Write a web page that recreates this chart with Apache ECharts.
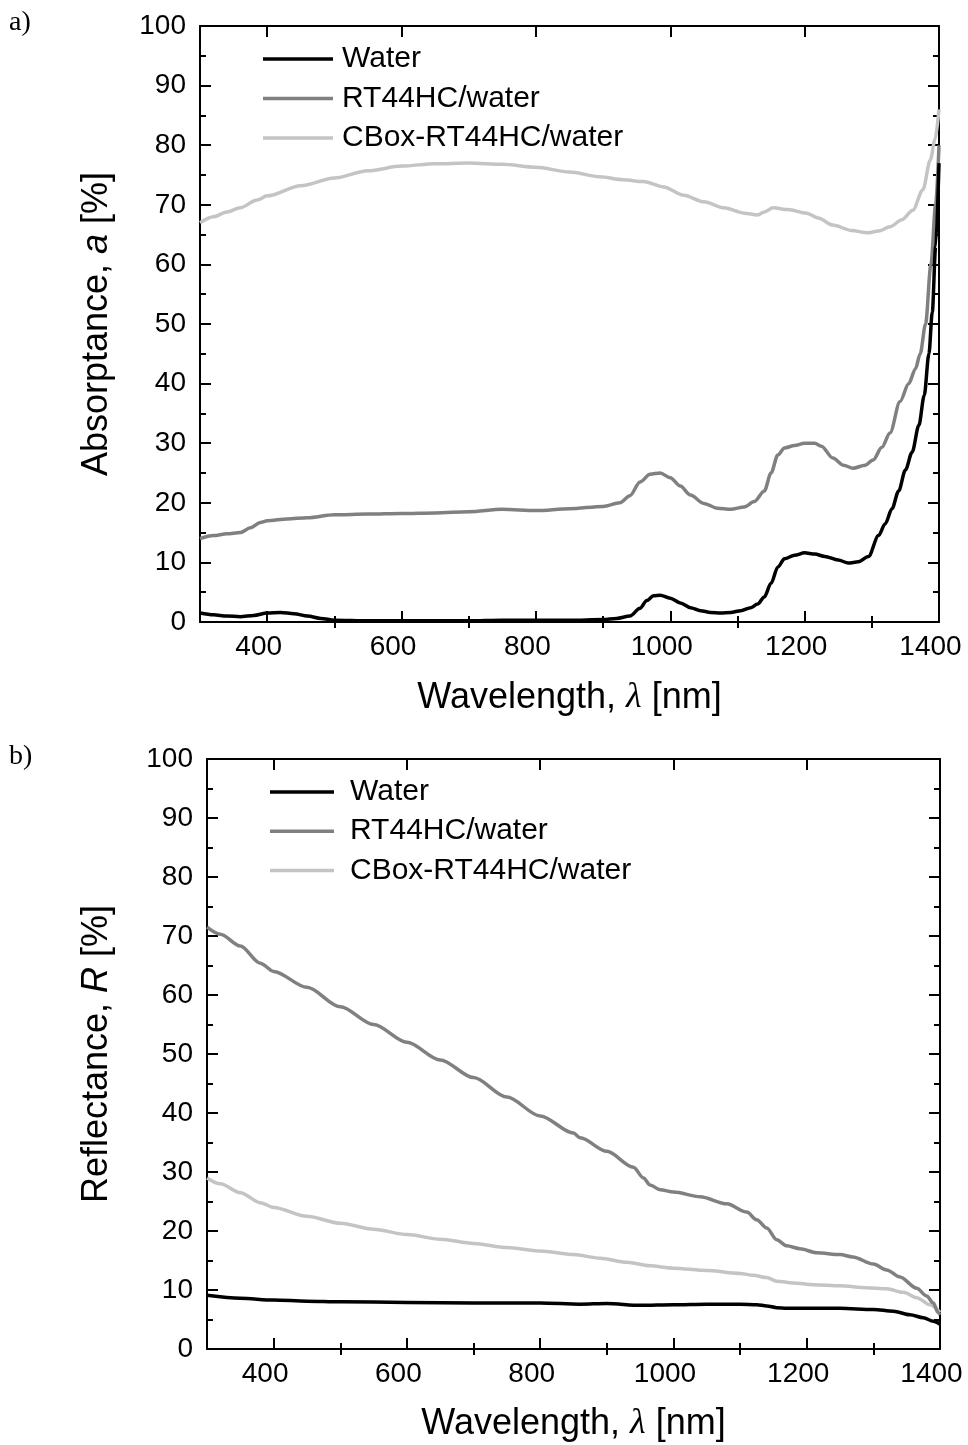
<!DOCTYPE html>
<html>
<head>
<meta charset="utf-8">
<script src="https://cdn.jsdelivr.net/npm/echarts@6/dist/echarts.min.js"></script>
<style>
html,body{margin:0;padding:0;background:#fff;}
#c{width:968px;height:1445px;}
</style>
</head>
<body>
<div id="c"></div>
<script>
// ---------- Data ----------
const seriesNames = ['Water', 'RT44HC/water', 'CBox-RT44HC/water'];
const xMajorTicks = [400, 600, 800, 1000, 1200, 1400];
const xMinorTicks = [500, 700, 900, 1100, 1300];

// Panel a) Absorptance
const aWaterWl = [300,320,340,360,380,400,420,440,460,480,500,550,600,650,700,750,800,850,900,920,940,955,965,975,985,1000,1015,1030,1045,1060,1075,1090,1105,1120,1130,1140,1150,1160,1170,1185,1200,1215,1230,1250,1265,1280,1295,1310,1320,1330,1340,1350,1360,1370,1378,1385,1390,1395,1400];
const aWaterVal = [1.5,1.2,1.0,0.9,1.1,1.5,1.6,1.4,1.0,0.6,0.3,0.2,0.2,0.2,0.2,0.3,0.3,0.3,0.4,0.6,1.0,2.3,3.6,4.4,4.5,4.0,3.2,2.4,1.9,1.6,1.5,1.6,1.9,2.4,3.0,4.2,6.5,9.2,10.6,11.2,11.6,11.4,11.0,10.4,9.9,10.1,11.0,14.5,16.5,19,22,25.5,28.5,33,38,45,52,63,77];

const aRtWl = [300,320,340,360,375,390,400,430,460,500,550,600,650,700,750,800,850,900,925,940,955,970,985,1000,1015,1030,1050,1070,1090,1110,1125,1140,1150,1160,1170,1185,1200,1215,1225,1242,1258,1272,1290,1302,1315,1327,1342,1355,1365,1372,1380,1388,1395,1400];
const aRtVal = [14,14.5,14.8,15,15.8,16.7,17,17.3,17.5,18,18.1,18.2,18.3,18.5,18.9,18.7,19,19.4,20,21.2,23.5,24.8,25,24.2,22.8,21.3,19.9,19.1,18.9,19.3,20.2,22,25,28,29.2,29.6,30,30,29.5,27.5,26.3,25.8,26.3,27.2,29.3,31.7,37,40,42.5,45,50,60,70,80];

const aCbWl = [300,320,340,360,385,400,450,500,550,600,650,700,750,800,850,895,930,960,990,1020,1050,1080,1110,1130,1140,1153,1175,1203,1220,1242,1270,1293,1310,1327,1345,1361,1376,1387,1394,1400];
const aCbVal = [67,68,68.8,69.5,70.8,71.5,73.2,74.5,75.7,76.5,76.9,77,76.8,76.3,75.5,74.7,74.2,73.9,73,71.6,70.5,69.5,68.6,68.3,68.8,69.5,69.2,68.6,67.8,66.6,65.7,65.3,65.6,66.3,67.5,69.1,72.5,77.5,80.9,86];

// Panel b) Reflectance
const bWaterWl = [300,350,400,450,500,600,700,800,860,900,950,1000,1050,1100,1125,1140,1155,1170,1200,1250,1300,1330,1355,1375,1390,1400];
const bWaterVal = [9.1,8.6,8.3,8.1,8.0,7.9,7.8,7.8,7.6,7.7,7.4,7.5,7.6,7.6,7.5,7.3,7.0,6.9,6.9,6.9,6.7,6.4,5.8,5.3,4.7,4.2];

const bRtWl = [300,320,350,380,400,450,500,550,600,650,700,750,800,850,860,900,940,955,965,980,1000,1040,1080,1110,1125,1140,1155,1170,1190,1215,1250,1269,1300,1320,1340,1365,1380,1390,1397,1400];
const bRtVal = [71.5,70.3,68.3,65.4,64,61.3,58,55,52,49,46,42.7,39.5,36.6,35.8,33.5,30.8,29,27.8,27,26.6,25.8,24.6,23.2,21.9,20.5,18.5,17.5,17,16.3,16,15.6,14.4,13.4,12.2,10.3,9,7.8,6.2,5.8];

const bCbWl = [300,320,350,380,400,450,500,550,600,650,700,750,800,850,890,930,965,1000,1050,1100,1120,1140,1155,1180,1210,1250,1290,1320,1345,1365,1385,1400];
const bCbVal = [29,28,26.5,24.8,24,22.5,21.3,20.3,19.4,18.6,17.9,17.2,16.6,16,15.4,14.7,14.1,13.7,13.3,12.8,12.5,12.1,11.5,11.2,10.9,10.7,10.4,10.2,9.6,8.7,7.5,6.2];

// ---------- Styling ----------
const colors = ['#000000', '#808080', '#c4c4c4'];
const FONT = 'Liberation Sans';
const pair = (xs, ys) => xs.map((x, i) => [x, ys[i]]);
const plain = v => String(v);

function xAxes(grid, nameGap) {
  const base = {gridIndex: grid, type: 'value', min: 300, max: 1400, interval: 100, splitLine: {show: false}};
  return [
    Object.assign({}, base, {
      position: 'bottom',
      axisLine: {show: true, onZero: false, lineStyle: {color: '#000', width: 2}},
      axisTick: {show: true, inside: true, length: 11, customValues: xMajorTicks, lineStyle: {color: '#000', width: 2}},
      axisLabel: {show: true, customValues: xMajorTicks, formatter: plain, color: '#000', fontSize: 28, fontFamily: FONT, margin: 11, padding: [0, 17, 0, 0]},
      name: '{n|Wavelength, }{l|λ}{n| [nm]}', nameLocation: 'middle', nameGap: nameGap,
      nameTextStyle: {rich: {
        n: {fontSize: 36, fontFamily: FONT, color: '#000'},
        l: {fontSize: 36, fontFamily: 'Liberation Serif', fontStyle: 'italic', color: '#000'}
      }}
    }),
    Object.assign({}, base, {
      position: 'bottom',
      axisLine: {show: false},
      axisTick: {show: true, inside: true, length: 6, customValues: xMinorTicks, lineStyle: {color: '#000', width: 2}},
      axisLabel: {show: false}
    }),
    Object.assign({}, base, {
      position: 'top',
      axisLine: {show: true, onZero: false, lineStyle: {color: '#000', width: 2}},
      axisTick: {show: true, inside: true, length: 11, customValues: xMajorTicks, lineStyle: {color: '#000', width: 2}},
      axisLabel: {show: false}
    }),
    Object.assign({}, base, {
      position: 'top',
      axisLine: {show: false},
      axisTick: {show: true, inside: true, length: 6, customValues: xMinorTicks, lineStyle: {color: '#000', width: 2}},
      axisLabel: {show: false}
    })
  ];
}

function yAxes(grid, title, nameGap) {
  const base = {gridIndex: grid, type: 'value', min: 0, max: 100, interval: 10, splitLine: {show: false}, minorSplitLine: {show: false}};
  return [
    Object.assign({}, base, {
      position: 'left',
      axisLine: {show: true, onZero: false, lineStyle: {color: '#000', width: 2}},
      axisTick: {show: true, inside: true, length: 11, lineStyle: {color: '#000', width: 2}},
      minorTick: {show: true, splitNumber: 2, length: 6, lineStyle: {color: '#000', width: 2}},
      axisLabel: {show: true, color: '#000', fontSize: 28, fontFamily: FONT, margin: 14},
      name: title, nameLocation: 'middle', nameGap: nameGap, nameRotate: 90,
      nameTextStyle: {rich: {
        n: {fontSize: 36, fontFamily: FONT, color: '#000'},
        i: {fontSize: 36, fontFamily: FONT, fontStyle: 'italic', color: '#000'}
      }}
    }),
    Object.assign({}, base, {
      position: 'right',
      axisLine: {show: true, onZero: false, lineStyle: {color: '#000', width: 2}},
      axisTick: {show: true, inside: true, length: 11, lineStyle: {color: '#000', width: 2}},
      minorTick: {show: true, splitNumber: 2, length: 6, lineStyle: {color: '#000', width: 2}},
      axisLabel: {show: false}
    })
  ];
}

function line(name, idx, data, xi, yi) {
  return {
    name: name, type: 'line', data: data, xAxisIndex: xi, yAxisIndex: yi,
    symbol: 'none', smooth: 0.3, smoothMonotone: 'x',
    lineStyle: {color: colors[idx], width: 3.5}, itemStyle: {color: colors[idx]},
    z: 3 - idx
  };
}

const legendText = pad => ({fontSize: 30, fontFamily: FONT, color: '#000', lineHeight: 30, padding: [0, 0, 0, pad]});

const chart = echarts.init(document.getElementById('c'), null, {renderer: 'canvas'});
chart.setOption({
  animation: false,
  backgroundColor: '#fff',
  title: [
    {text: 'a)', left: 9, top: 9, padding: 0, textStyle: {fontFamily: 'Liberation Serif', fontSize: 28, fontWeight: 'normal', color: '#000'}},
    {text: 'b)', left: 9, top: 743, padding: 0, textStyle: {fontFamily: 'Liberation Serif', fontSize: 28, fontWeight: 'normal', color: '#000'}}
  ],
  grid: [
    {left: 200, top: 26, width: 739, height: 596, outerBoundsMode: 'none', containLabel: false},
    {left: 207, top: 759, width: 733, height: 590, outerBoundsMode: 'none', containLabel: false}
  ],
  legend: [
    {data: seriesNames, orient: 'vertical', left: 263, top: 44, padding: 0, icon: 'rect', itemWidth: 70, itemHeight: 3.5, itemGap: 9.5,
     textStyle: legendText(4), selectedMode: false},
    {data: seriesNames, orient: 'vertical', left: 270, top: 777, padding: 0, icon: 'rect', itemWidth: 64, itemHeight: 3.5, itemGap: 9.2,
     textStyle: legendText(11), selectedMode: false}
  ],
  xAxis: xAxes(0, 58).concat(xAxes(1, 57)),
  yAxis: yAxes(0, '{n|Absorptance, }{i|a}{n| [%]}', 85).concat(yAxes(1, '{n|Reflectance, }{i|R}{n| [%]}', 92)),
  series: [
    line(seriesNames[0], 0, pair(aWaterWl, aWaterVal), 0, 0),
    line(seriesNames[1], 1, pair(aRtWl, aRtVal), 0, 0),
    line(seriesNames[2], 2, pair(aCbWl, aCbVal), 0, 0),
    line(seriesNames[0], 0, pair(bWaterWl, bWaterVal), 4, 2),
    line(seriesNames[1], 1, pair(bRtWl, bRtVal), 4, 2),
    line(seriesNames[2], 2, pair(bCbWl, bCbVal), 4, 2)
  ]
});
</script>
</body>
</html>
